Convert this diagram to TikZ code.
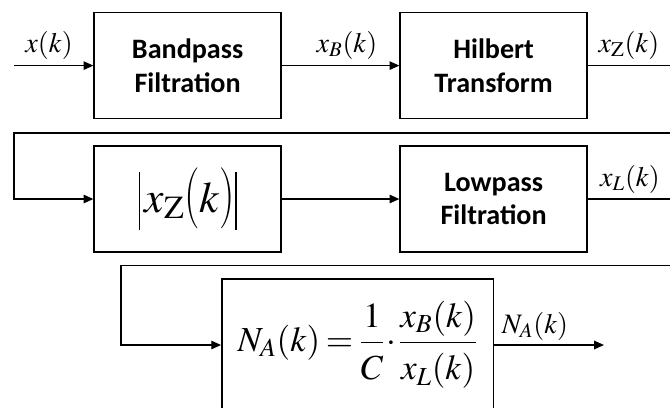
\documentclass[tikz,border=0pt]{standalone}
\usepackage{graphicx}
\usepackage{mathptmx}
\usepackage[no-math]{fontspec}
\newfontfamily\blockfont{Carlito}
\usetikzlibrary{arrows.meta}

% tall bars and parentheses as in the equation editor
\newcommand{\tallbar}{\mathord{\rule[-12.5pt]{0.8pt}{41pt}}}
\newcommand{\tallopen}{\mathopen{\raisebox{-1pt}{\scalebox{1}[1.4]{(}}}}
\newcommand{\tallclose}{\mathclose{\raisebox{-1pt}{\scalebox{1}[1.4]{)}}}}

\tikzset{
  block/.style={draw, line width=1pt, minimum width=4.675cm, minimum height=2.65cm, align=center, font=\blockfont\bfseries\fontsize{20}{24}\selectfont},
  sigline/.style={line width=1pt},
  sigarrow/.style={line width=1pt, -{Triangle[length=7pt,width=6pt]}},
  siglabel/.style={anchor=base, inner sep=0pt, font=\fontsize{20}{24}\selectfont}
}

\begin{document}
\begin{tikzpicture}
\useasboundingbox (0,0) rectangle (16.75,-10.175);
\clip (0,0) rectangle (16.75,-10.175);

% blocks
\node[block] (bpf) at (4.69,-1.64) {Bandpass\\Filtration};
\node[block] (hil) at (12.34,-1.64) {Hilbert\\Transform};
\node[block, font=\fontsize{31}{36}\selectfont] (absz) at (4.69,-4.975)
  {$\tallbar\, x_{\mathrm{Z}}\tallopen k\tallclose\tallbar$};
\node[block] (lpf) at (12.34,-4.975) {Lowpass\\Filtration};
\node[block, minimum width=6.79cm, minimum height=3.3cm, font=\fontsize{25}{30}\selectfont] (na) at (8.94,-8.625)
  {$\thickmuskip=3mu \medmuskip=1mu \displaystyle N_A(k)=\frac{1\rule[-5pt]{0pt}{1pt}}{\rule{0pt}{23pt}C}\cdot\frac{x_B(k)\rule[-5pt]{0pt}{1pt}}{\rule{0pt}{23pt}x_L(k)}$};

% corners of the feedback lines
\coordinate (in) at (0.35,-1.64);
\coordinate (hilr) at (17,-1.64);
\coordinate (hild) at (17,-3.325);
\coordinate (absl) at (0.35,-3.325);
\coordinate (lpfr) at (17,-4.975);
\coordinate (lpfd) at (17,-6.6425);
\coordinate (nal) at (3.02,-6.6425);
\coordinate (out) at (15.1,-8.625);

% connectors
\draw[sigarrow] (in) -- (bpf.west);
\draw[sigarrow] (bpf.east) -- (hil.west);
\draw[sigarrow] (hil.east) -- (hilr) -- (hild) -- (absl) |- (absz.west);
\draw[sigarrow] (absz.east) -- (lpf.west);
\draw[sigarrow] (lpf.east) -- (lpfr) -- (lpfd) -- (nal) |- (na.west);
\draw[sigarrow] (na.east) -- (out);

% signal labels
\node[siglabel] (lx) at (1.225,-1.3) {$x(k)$};
\node[siglabel] (lxb) at (8.675,-1.3) {$x_B(k)$};
\node[siglabel] (lxz) at (15.725,-1.3) {$x_{\mathrm{Z}}(k)$};
\node[siglabel] (lxl) at (15.75,-4.65) {$x_L(k)$};
\node[siglabel] (lna) at (13.375,-8.325) {$N_A(k)$};
\end{tikzpicture}
\end{document}
